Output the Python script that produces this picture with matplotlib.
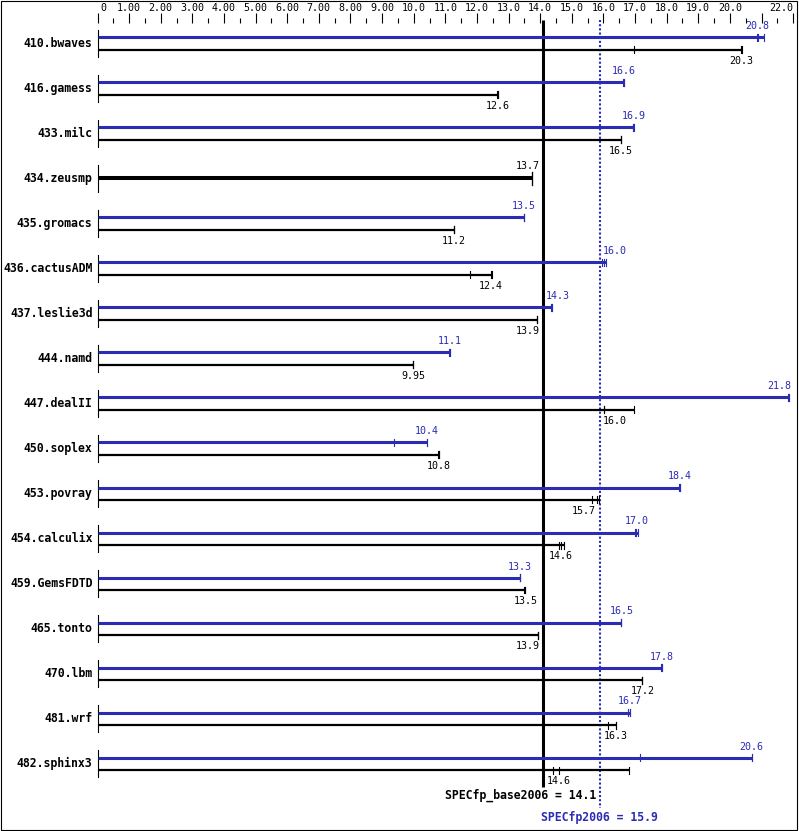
import numpy as np
import matplotlib.pyplot as plt
from matplotlib.patches import Rectangle

# SPEC CFP2006 ratios (base = black, peak = blue)
benchmarks = ["410.bwaves", "416.gamess", "433.milc", "434.zeusmp", "435.gromacs",
              "436.cactusADM", "437.leslie3d", "444.namd", "447.dealII", "450.soplex",
              "453.povray", "454.calculix", "459.GemsFDTD", "465.tonto", "470.lbm",
              "481.wrf", "482.sphinx3"]
base_scores = ["20.3", "12.6", "16.5", "13.7", "11.2", "12.4", "13.9", "9.95", "16.0",
               "10.8", "15.7", "14.6", "13.5", "13.9", "17.2", "16.3", "14.6"]
peak_scores = ["20.8", "16.6", "16.9", None, "13.5", "16.0", "14.3", "11.1", "21.8",
               "10.4", "18.4", "17.0", "13.3", "16.5", "17.8", "16.7", "20.6"]
base_runs = [[16.98, 20.36, 20.39], [12.63, 12.66, 12.66], [16.55, 16.55, 16.55],
             [13.75, 13.75, 13.75], [11.27, 11.27, 11.27], [11.79, 12.45, 12.48],
             [13.91, 13.91, 13.91], [9.99, 9.99, 9.99], [16.02, 16.02, 16.97],
             [10.78, 10.80, 10.80], [15.63, 15.79, 15.86], [14.59, 14.65, 14.75],
             [13.50, 13.53, 13.53], [13.94, 13.94, 13.94], [17.23, 17.23, 17.23],
             [16.15, 16.39, 16.39], [14.40, 14.60, 16.80]]
peak_runs = [[20.85, 20.88, 21.08], [16.62, 16.64, 16.66], [16.92, 16.95, 16.98],
             None, [13.48, 13.48, 13.48], [15.95, 16.02, 16.08],
             [14.34, 14.37, 14.37], [11.12, 11.15, 11.15], [21.83, 21.86, 21.86],
             [9.39, 10.42, 10.42], [18.40, 18.43, 18.43], [16.99, 17.04, 17.10],
             [13.37, 13.37, 13.37], [16.57, 16.57, 16.57], [17.81, 17.84, 17.84],
             [16.77, 16.83, 16.83], [17.16, 20.69, 20.69]]
base_mean = 14.1
peak_mean = 15.9
tick_values = list(range(0, 21)) + [22]
tick_labels = ["0"] + ["%d.00" % v for v in range(1, 10)] + ["%d.0" % v for v in range(10, 21)] + ["22.0"]

# pixel geometry of the original picture
W, H = 799, 831
X0, PX = 97.5, 31.62   # x pixel of 0, pixels per unit
Y0, PY = 43.5, 45.0    # y pixel of first row, pixels per row

BLUE = "#2b2bb3"
MONO = "DejaVu Sans Mono"

fig = plt.figure(figsize=(W / 100, H / 100), dpi=100)
ax = fig.add_axes([0, 0, 1, 1])
ax.set_xlim(-X0 / PX, (W - X0) / PX)
ax.set_ylim((H - Y0) / PY, -Y0 / PY)
ax.axis("off")

XMAX = (791 - X0) / PX   # rightmost edge a value label may reach

def ry(p):
    # y pixel -> row units
    return (p - Y0) / PY

def label_pos(v, text):
    hw = len(text) * 3.0 / PX
    if v + hw > XMAX:
        return XMAX, "right"
    for L in (base_mean, peak_mean):
        if v - hw < L + 1 / PX and v + hw > L - 1 / PX:
            if v >= L:
                return L + 2.5 / PX, "left"
            return L - 4 / PX, "right"
    return v, "center"

# top scale
for v, t in zip(tick_values, tick_labels):
    ha = "center"
    x = v
    if v == 0:
        ha, x = "left", 0.08
    if v == 22:
        ha, x = "right", 22.0
    ax.text(x, ry(8), t, ha=ha, va="center", fontsize=7.2, family=MONO)
for v in np.arange(0, 22.01, 0.5):
    top = 13.3 if float(v).is_integer() else 18
    ax.plot([v, v], [ry(top), ry(22.7)], color="black", lw=0.8, solid_capstyle="butt")

# mean lines
ax.plot([base_mean, base_mean], [ry(20), ry(786.7)], color="black", lw=2.2, solid_capstyle="butt")
ax.plot([peak_mean, peak_mean], [ry(20), ry(808)], color=BLUE, lw=1.5, linestyle=(0, (1, 1)))

for i, name in enumerate(benchmarks):
    ax.text(-5 / PX, i, name, ha="right", va="center", fontsize=8.3,
            family=MONO, fontweight="bold")
    ax.plot([0, 0], [i - 13.3 / PY, i + 13.3 / PY], color="black", lw=0.8)

    if peak_runs[i] is None:
        # base and peak identical: single thick bar
        runs = base_runs[i]
        ax.plot([0, max(runs)], [i, i], color="black", lw=2.9, solid_capstyle="butt")
        for r in runs:
            ax.plot([r, r], [i - 6.5 / PY, i + 6.5 / PY], color="black", lw=0.8)
        x, ha = label_pos(sorted(runs)[1], base_scores[i])
        ax.text(x, i - 12 / PY, base_scores[i], ha=ha, va="center", fontsize=7.2, family=MONO)
        continue

    yp = i - 6 / PY
    yb = i + 6.5 / PY
    runs = peak_runs[i]
    ax.plot([0, max(runs)], [yp, yp], color=BLUE, lw=2.2, solid_capstyle="butt")
    for r in runs:
        ax.plot([r, r], [yp - 3.5 / PY, yp + 3.5 / PY], color=BLUE, lw=0.8)
    x, ha = label_pos(sorted(runs)[1], peak_scores[i])
    ax.text(x, i - 17 / PY, peak_scores[i], ha=ha, va="center", fontsize=7.2,
            family=MONO, color=BLUE)

    runs = base_runs[i]
    ax.plot([0, max(runs)], [yb, yb], color="black", lw=1.6, solid_capstyle="butt")
    for r in runs:
        ax.plot([r, r], [yb - 3.5 / PY, yb + 3.5 / PY], color="black", lw=0.8)
    x, ha = label_pos(sorted(runs)[1], base_scores[i])
    ax.text(x, i + 17.5 / PY, base_scores[i], ha=ha, va="center", fontsize=7.2, family=MONO)

# summary texts
ax.text(peak_mean - 4 / PX, ry(795), "SPECfp_base2006 = %.1f" % base_mean, ha="right",
        va="center", fontsize=8.3, family=MONO, fontweight="bold")
ax.text(base_mean - 2 / PX, ry(817), "SPECfp2006 = %.1f" % peak_mean, ha="left",
        va="center", fontsize=8.3, family=MONO, fontweight="bold", color=BLUE)

fig.add_artist(Rectangle((0.5 / W, 1.5 / H), (W - 2.5) / W, (H - 2.5) / H,
                         transform=fig.transFigure, fill=False, lw=0.8, color="black"))

plt.savefig("out.png", dpi=100)
